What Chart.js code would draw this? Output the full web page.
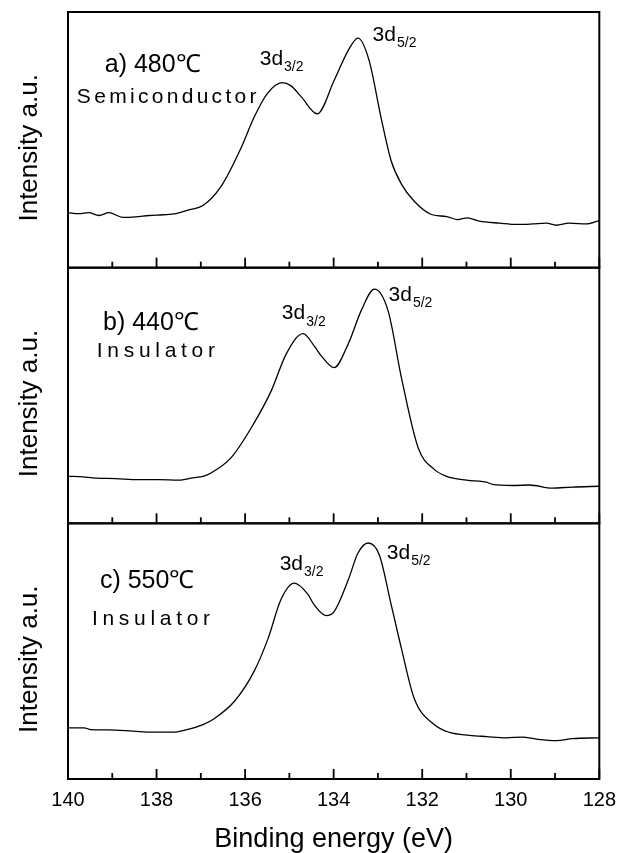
<!DOCTYPE html>
<html>
<head>
<meta charset="utf-8">
<script src="https://cdn.jsdelivr.net/npm/chart.js@4.4.1/dist/chart.umd.min.js"></script>
<style>
    html, body { margin: 0; padding: 0; background: #fff; }
    #wrap { position: relative; width: 627px; height: 853px; }
</style>
</head>
<body>
<div id="wrap"><canvas id="xps-chart"></canvas></div>
<script>
// XPS spectra, 3d doublet - three stacked panels sharing the energy axis

// a) 480 C, semiconductor
const energyA = [140, 139.75, 139.53, 139.3, 139.08, 138.76, 138.47, 138.17, 137.86, 137.56, 137.27, 136.95, 136.54, 136.09, 135.8, 135.5, 135.16, 134.97, 134.73, 134.37, 133.99, 133.67, 133.45, 133.2, 132.93, 132.7, 132.47, 132.18, 131.79, 131.45, 131.2, 130.98, 130.71, 130.25, 129.87, 129.51, 129.2, 128.97, 128.68, 128.29, 128];
const intensityA = [21.5, 21.1, 21.5, 20.4, 21.5, 19.7, 19.9, 20.4, 20.7, 21.1, 22.6, 24.3, 31.9, 46.9, 58.7, 68.1, 72.4, 71.2, 66.8, 60.2, 73.2, 85.0, 89.8, 81.1, 58.7, 41.7, 32.7, 26.0, 20.8, 20.0, 18.8, 19.5, 18.2, 17.4, 16.9, 17.1, 17.4, 16.6, 17.4, 17.1, 18.4];

// b) 440 C, insulator
const energyB = [140, 139.66, 139.44, 138.92, 138.4, 137.95, 137.5, 137.18, 136.95, 136.77, 136.32, 135.86, 135.41, 135.07, 134.69, 134.44, 134.28, 133.99, 133.67, 133.38, 133.08, 132.77, 132.47, 132.09, 131.73, 131.45, 131.0, 130.55, 130.41, 129.96, 129.58, 129.06, 128.61, 128];
const intensityB = [18.4, 18.2, 17.8, 17.5, 17.1, 17.1, 16.9, 17.8, 18.4, 19.7, 25.6, 37.4, 51.8, 66.3, 74.2, 69.4, 65.5, 60.9, 70.2, 83.1, 91.6, 83.1, 57.0, 29.5, 21.1, 18.4, 16.9, 16.1, 15.2, 14.8, 15.0, 13.8, 14.2, 14.5];

// c) 550 C, insulator
const energyC = [140, 139.64, 139.48, 139.08, 138.53, 138.08, 137.63, 137.34, 136.95, 136.7, 136.25, 135.8, 135.48, 135.19, 134.89, 134.58, 134.44, 134.17, 133.99, 133.67, 133.45, 133.22, 132.97, 132.7, 132.47, 132.18, 131.73, 131.38, 130.93, 130.55, 130.1, 129.74, 129.42, 128.97, 128.61, 128];
const intensityC = [20.0, 20.0, 19.3, 19.2, 18.7, 18.3, 18.3, 19.2, 21.3, 23.6, 30.2, 42.0, 55.0, 70.2, 76.6, 72.2, 68.1, 63.9, 65.5, 77.9, 88.4, 92.3, 87.7, 68.1, 51.1, 31.5, 21.3, 18.2, 17.1, 16.6, 16.1, 16.4, 15.6, 15.0, 15.8, 16.1];

const minorTicks = [129, 131, 133, 135, 137, 139];
const panelIds = ['yA', 'yB', 'yC'];

// text inside each panel, placed in data units (energy, % of panel)
const panelNotes = [
    { axis: 'yA', title: 'a) 480℃', titleAt: [139.17, 79.2], kind: 'Semiconductor', kindAt: [139.8, 66.7], spacing: 3.3, d32: [135.67, 81.5], d52: [133.12, 91.0] },
    { axis: 'yB', title: 'b) 440℃', titleAt: [139.21, 78.5], kind: 'Insulator', kindAt: [139.35, 67.5], spacing: 4.7, d32: [135.17, 82.0], d52: [132.76, 89.4] },
    { axis: 'yC', title: 'c) 550℃', titleAt: [139.28, 77.3], kind: 'Insulator', kindAt: [139.46, 62.4], spacing: 4.7, d32: [135.22, 83.9], d52: [132.8, 88.2] }
];

const FONT = "'Liberation Sans', Arial, sans-serif";

function toPoints(xs, ys) {
    return xs.map((x, i) => ({ x: x, y: ys[i] }));
}

function spectrum(xs, ys, axis) {
    return {
        data: toPoints(xs, ys),
        yAxisID: axis,
        borderColor: '#000',
        borderWidth: 1.3,
        pointRadius: 0,
        fill: false,
        cubicInterpolationMode: 'monotone'
    };
}

function panelAxis(weight) {
    return {
        type: 'linear',
        min: 0,
        max: 100,
        position: 'left',
        stack: 'xps',
        stackWeight: 1,
        weight: weight,
        ticks: { display: false },
        grid: { display: false, drawTicks: false },
        border: { display: false }
    };
}

function drawLevel(ctx, text, sub, px, py) {
    ctx.font = '21px ' + FONT;
    ctx.fillText(text, px, py);
    const w = ctx.measureText(text).width;
    ctx.font = '14px ' + FONT;
    ctx.fillText(sub, px + w + 1, py + 8);
}

const panelDecor = {
    id: 'panelDecor',
    afterDraw(chart) {
        const ctx = chart.ctx;
        const area = chart.chartArea;
        const xs = chart.scales.x;
        ctx.save();
        ctx.strokeStyle = '#000';
        ctx.fillStyle = '#000';

        panelIds.forEach(id => {
            const s = chart.scales[id];
            ctx.lineWidth = 2;
            ctx.strokeRect(area.left, s.top, area.right - area.left, s.bottom - s.top);

            // inward ticks on the bottom edge of every panel
            ctx.lineWidth = 1.8;
            xs.ticks.forEach(t => {
                const px = xs.getPixelForValue(t.value);
                ctx.beginPath();
                ctx.moveTo(px, s.bottom);
                ctx.lineTo(px, s.bottom - 10);
                ctx.stroke();
            });
            minorTicks.forEach(v => {
                const px = xs.getPixelForValue(v);
                ctx.beginPath();
                ctx.moveTo(px, s.bottom);
                ctx.lineTo(px, s.bottom - 6);
                ctx.stroke();
            });

            // y title
            ctx.save();
            ctx.translate(30, (s.top + s.bottom) / 2 + 8);
            ctx.rotate(-Math.PI / 2);
            ctx.font = '26px ' + FONT;
            ctx.textAlign = 'center';
            ctx.textBaseline = 'middle';
            ctx.fillText('Intensity a.u.', 0, 0);
            ctx.restore();
        });

        ctx.textAlign = 'left';
        ctx.textBaseline = 'middle';
        panelNotes.forEach(n => {
            const ys = chart.scales[n.axis];
            ctx.font = '25px ' + FONT;
            ctx.fillText(n.title, xs.getPixelForValue(n.titleAt[0]), ys.getPixelForValue(n.titleAt[1]));

            ctx.font = '21px ' + FONT;
            ctx.letterSpacing = n.spacing + 'px';
            ctx.fillText(n.kind, xs.getPixelForValue(n.kindAt[0]), ys.getPixelForValue(n.kindAt[1]));
            ctx.letterSpacing = '0px';

            drawLevel(ctx, '3d', '3/2', xs.getPixelForValue(n.d32[0]), ys.getPixelForValue(n.d32[1]));
            drawLevel(ctx, '3d', '5/2', xs.getPixelForValue(n.d52[0]), ys.getPixelForValue(n.d52[1]));
        });
        ctx.restore();
    }
};

document.addEventListener('DOMContentLoaded', function () {
    const ctx = document.getElementById('xps-chart');
    new Chart(ctx, {
        type: 'line',
        data: {
            datasets: [
                spectrum(energyA, intensityA, 'yA'),
                spectrum(energyB, intensityB, 'yB'),
                spectrum(energyC, intensityC, 'yC')
            ]
        },
        options: {
            responsive: true,
            maintainAspectRatio: false,
            animation: false,
            layout: {
                padding: { top: 12, left: 68, right: 27, bottom: 0 }
            },
            plugins: {
                legend: { display: false },
                tooltip: { enabled: false }
            },
            scales: {
                x: {
                    type: 'linear',
                    reverse: true,
                    min: 128,
                    max: 140,
                    ticks: {
                        stepSize: 2,
                        color: '#000',
                        padding: 11,
                        font: { size: 20, family: FONT, lineHeight: 1 }
                    },
                    grid: { display: false, drawTicks: false },
                    border: { display: false },
                    title: {
                        display: true,
                        text: 'Binding energy (eV)',
                        color: '#000',
                        font: { size: 27, family: FONT, lineHeight: 1 },
                        padding: { top: 5, bottom: 0 }
                    }
                },
                yA: panelAxis(3),
                yB: panelAxis(2),
                yC: panelAxis(1)
            }
        },
        plugins: [panelDecor]
    });
});
</script>
</body>
</html>
